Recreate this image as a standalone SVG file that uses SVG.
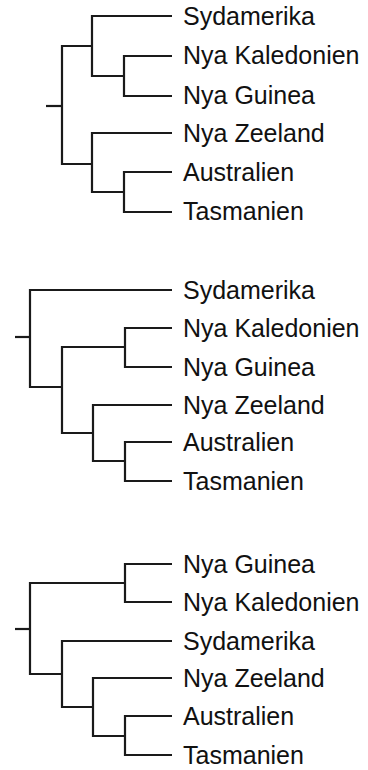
<svg xmlns="http://www.w3.org/2000/svg" width="368" height="770" viewBox="0 0 368 770">
  <style>
    .br { fill: none; stroke: #1a1a1a; stroke-width: 2.2; stroke-linejoin: miter; }
    .lbl { font-family: "Liberation Sans", Arial, sans-serif; font-size: 25px; fill: #111111; }
  </style>
  <rect width="368" height="770" fill="#ffffff"/>

  <!-- branches of the three trees -->
  <g id="connectors">
    <!-- tree 1 -->
    <path class="br" d="M46 106 H62"/>
    <path class="br" d="M92 46 H62 V164 H92"/>
    <path class="br" d="M172 16 H92 V76 H124"/>
    <path class="br" d="M172 56 H124 V96 H172"/>
    <path class="br" d="M172 133 H92 V192 H124"/>
    <path class="br" d="M172 172 H124 V212 H172"/>
    <!-- tree 2 -->
    <path class="br" d="M15 337 H30"/>
    <path class="br" d="M172 290 H30 V387 H62"/>
    <path class="br" d="M125 347 H62 V433 H93"/>
    <path class="br" d="M172 328 H125 V367 H172"/>
    <path class="br" d="M172 405 H93 V461 H125"/>
    <path class="br" d="M172 442 H125 V481 H172"/>
    <!-- tree 3 -->
    <path class="br" d="M15 629 H30"/>
    <path class="br" d="M125 583 H30 V674 H62"/>
    <path class="br" d="M172 564 H125 V602 H172"/>
    <path class="br" d="M172 641 H62 V707 H93"/>
    <path class="br" d="M172 678 H93 V736 H125"/>
    <path class="br" d="M172 716 H125 V755 H172"/>
  </g>

  <!-- tree 1 leaves -->
  <g id="t1-sydamerika"><text class="lbl" x="183" y="24.5">Sydamerika</text></g>
  <g id="t1-nya-kaledonien"><text class="lbl" x="183" y="64">Nya Kaledonien</text></g>
  <g id="t1-nya-guinea"><text class="lbl" x="183" y="104">Nya Guinea</text></g>
  <g id="t1-nya-zeeland"><text class="lbl" x="183" y="141.5">Nya Zeeland</text></g>
  <g id="t1-australien"><text class="lbl" x="183" y="180.5">Australien</text></g>
  <g id="t1-tasmanien"><text class="lbl" x="183" y="220">Tasmanien</text></g>

  <!-- tree 2 leaves -->
  <g id="t2-sydamerika"><text class="lbl" x="183" y="298.5">Sydamerika</text></g>
  <g id="t2-nya-kaledonien"><text class="lbl" x="183" y="336.5">Nya Kaledonien</text></g>
  <g id="t2-nya-guinea"><text class="lbl" x="183" y="375.5">Nya Guinea</text></g>
  <g id="t2-nya-zeeland"><text class="lbl" x="183" y="413.5">Nya Zeeland</text></g>
  <g id="t2-australien"><text class="lbl" x="183" y="450.5">Australien</text></g>
  <g id="t2-tasmanien"><text class="lbl" x="183" y="489.5">Tasmanien</text></g>

  <!-- tree 3 leaves -->
  <g id="t3-nya-guinea"><text class="lbl" x="183" y="572.5">Nya Guinea</text></g>
  <g id="t3-nya-kaledonien"><text class="lbl" x="183" y="610.5">Nya Kaledonien</text></g>
  <g id="t3-sydamerika"><text class="lbl" x="183" y="649.5">Sydamerika</text></g>
  <g id="t3-nya-zeeland"><text class="lbl" x="183" y="686.5">Nya Zeeland</text></g>
  <g id="t3-australien"><text class="lbl" x="183" y="724.5">Australien</text></g>
  <g id="t3-tasmanien"><text class="lbl" x="183" y="763.5">Tasmanien</text></g>
</svg>
